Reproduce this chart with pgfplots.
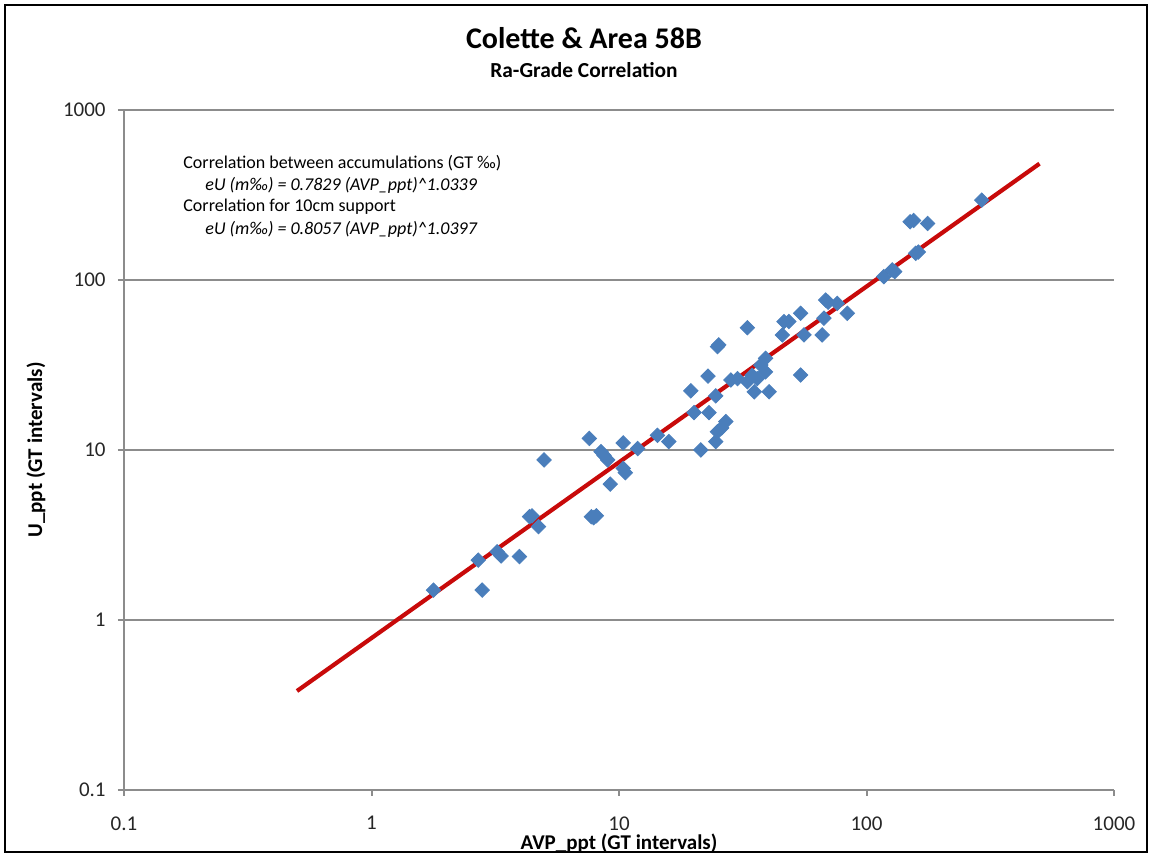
\documentclass[border=0pt]{standalone}
\usepackage{pgfplots}
\pgfplotsset{compat=1.18}
\usepackage{fontspec}
\setmainfont{Carlito}
\definecolor{mblue}{RGB}{74,126,187}
\definecolor{fitred}{RGB}{200,10,10}
\definecolor{gridgray}{RGB}{140,140,140}
\begin{document}
\begin{tikzpicture}
\useasboundingbox (0,0) rectangle (575.5pt,427.5pt);
\begin{axis}[
  at={(62pt,32.5pt)}, anchor=south west,
  scale only axis, width=495pt, height=340pt,
  xmode=log, ymode=log,
  xmin=0.1, xmax=1000, ymin=0.1, ymax=1000,
  axis x line*=bottom, axis y line*=left,
  axis line style={gridgray, line width=1pt},
  xtick={0.1,1,10,100,1000}, xticklabels={0.1,1,10,100,1000},
  ytick={0.1,1,10,100,1000}, yticklabels={0.1,1,10,100,1000},
  xminorticks=false, yminorticks=false,
  tick align=outside, major tick length=3pt,
  tick style={gridgray, line width=1pt},
  ymajorgrids, major grid style={gridgray, line width=1pt},
  /pgf/number format/assume math mode=true,
  ticklabel style={font=\fontsize{10.5}{12}\selectfont, text=black!85},
  x tick label style={anchor=north, inner sep=0pt, yshift=-10pt},
  y tick label style={anchor=east, inner sep=0pt, xshift=-6pt},
  xlabel={AVP\_ppt (GT intervals)},
  ylabel={U\_ppt (GT intervals)},
  label style={font=\bfseries\fontsize{10.5}{12}\selectfont},
  xlabel style={at={(axis description cs:0.5,-0.0875)}, anchor=base},
  ylabel style={at={(axis description cs:-0.0889,0.5)}, anchor=center, rotate=0},
  clip=false,
]
\addplot[fitred, line width=2.1pt, no marks] coordinates {
  (0.5,0.3823) (1,0.7829) (10,8.464) (100,91.51) (500,483.2)
};
\addplot[only marks, mark=square*, mark size=2.55pt,
  mark options={rotate=45, fill=mblue, draw=mblue}] coordinates {
  (1.78,1.5) (2.8,1.5) (2.7,2.25) (3.22,2.52) (3.34,2.38) (3.96,2.36)
  (4.35,4.05) (4.45,4.1) (4.73,3.54) (4.98,8.74)
  (7.59,11.7) (7.73,4.05) (8.1,4.1) (7.9,4.0)
  (8.46,9.78) (8.7,9.3) (9.0,8.74) (9.22,6.3)
  (10.4,11.0) (10.4,7.8) (10.6,7.35) (11.9,10.2)
  (14.3,12.2) (15.9,11.2)
  (19.5,22.3) (20.1,16.6) (21.4,10.0) (22.9,27.2) (23.1,16.6)
  (24.6,20.8) (25.0,40.5) (25.3,41.5) (25.0,12.8) (24.6,11.2) (26.0,13.5) (27.0,14.7)
  (28.3,25.8) (30.1,26.3) (33.0,25.2) (33.0,52.4) (34.5,27.5) (35.2,22.0) (36.2,26.3)
  (37.4,31.6) (39.1,34.6) (39.1,28.8) (40.4,22.0)
  (45.7,47.5) (46.4,56.9) (48.6,57) (54.2,63.7) (54.2,27.6) (55.9,47.5)
  (66.2,47.5) (67.3,59.6) (68.4,76.2) (70,74) (76.2,72.9) (83.6,63.7)
  (117.5,104.6) (127,114.5) (130,112)
  (158,143.5) (162,146) (150,220) (155,224) (176.6,215) (292,295)
};
\end{axis}
\node[font=\bfseries\fontsize{15}{17}\selectfont] at (292pt,408.5pt) {Colette \& Area 58B};
\node[font=\bfseries\fontsize{10.7}{12}\selectfont] at (292pt,392.5pt) {Ra-Grade Correlation};
\begin{scope}[every node/.style={anchor=west, inner sep=0pt, font=\fontsize{9}{11}\selectfont}]
\node at (91.5pt,346pt) {Correlation between accumulations (GT ‰)};
\node at (102.5pt,335pt) {\itshape eU (m‰) = 0.7829 (AVP\_ppt)\^{}1.0339};
\node at (91.5pt,324pt) {Correlation for 10cm support};
\node at (102.5pt,313pt) {\itshape eU (m‰) = 0.8057 (AVP\_ppt)\^{}1.0397};
\end{scope}
\fill[white] (0,0) rectangle (575.5pt,1.5pt);
\draw[black, line width=0.8pt] (2.5pt,1.5pt) rectangle (573.5pt,425pt);
\end{tikzpicture}
\end{document}
